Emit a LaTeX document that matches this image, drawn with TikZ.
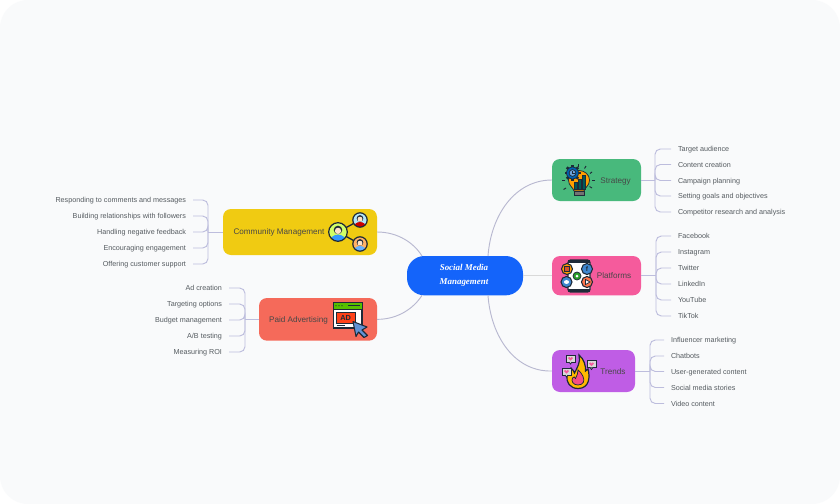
\documentclass[tikz,border=0pt]{standalone}
\usepackage{fontspec}
\setmainfont{Liberation Sans}
\newfontfamily\titlefont{Liberation Serif}
\usetikzlibrary{calc,shapes.geometric}
\definecolor{pagebg}{HTML}{F9FAFB}
\definecolor{linkc}{HTML}{BDBDDD}
\definecolor{curvec}{HTML}{B8B8D0}
\definecolor{leaftext}{HTML}{555B60}
\definecolor{ink}{HTML}{1E2A38}
\definecolor{cblue}{HTML}{1464FA}
\definecolor{cgreen}{HTML}{48B97C}
\definecolor{cpink}{HTML}{F55B9C}
\definecolor{cpurple}{HTML}{BF5DE5}
\definecolor{cyellow}{HTML}{F0CB12}
\definecolor{cred}{HTML}{F56A5A}
\tikzset{
 px/.style={x=0.75pt,y=-0.75pt},
 box/.style={rectangle,rounded corners=6pt,inner sep=0pt,outer sep=0pt,anchor=north west},
 nodetext/.style={font=\fontsize{6.1}{8}\selectfont,text=black!72,inner sep=0pt,text height=4.4pt,text depth=0pt},
 leafr/.style={font=\fontsize{5.4}{7}\selectfont,text=leaftext,anchor=west,inner ysep=0pt,inner xsep=5.25pt,outer sep=0pt,text height=4pt,text depth=0pt},
 leafl/.style={font=\fontsize{5.4}{7}\selectfont,text=leaftext,anchor=east,inner ysep=0pt,inner xsep=5.25pt,outer sep=0pt,text height=4pt,text depth=0pt},
 branch/.style={draw=linkc,line width=0.7pt,rounded corners=4pt},
 stem/.style={draw=linkc,line width=0.7pt},
 curve/.style={draw=curvec,line width=0.7pt},
 ic/.style={draw=ink,line width=0.55pt},
}
\newcommand{\bubble}[2]{%
 \fill[ic,fill=black!15] (#1-4.5,#2-3.5) rectangle (#1+4.5,#2+3.5);
 \fill[ic,fill=black!15] (#1-1.5,#2+3.5) -- (#1,#2+5.5) -- (#1+1.5,#2+3.5);
 \fill[cpink] (#1,#2+2) -- (#1-2.5,#2-.5) arc[start angle=180,end angle=360,radius=1.25] arc[start angle=180,end angle=360,radius=1.25] -- cycle;
}
\newcommand{\person}[6]{% x y r bg shirt hair
 \begin{scope}
 \clip (#1,#2) circle (#3);
 \fill[#4] (#1,#2) circle (#3);
 \fill[#5] (#1,#2+#3) ellipse ({#3*0.85} and {#3*0.72});
 \fill[#6] (#1,#2-#3*0.22) circle ({#3*0.46});
 \fill[orange!22] (#1,#2-#3*0.12) circle ({#3*0.34});
 \end{scope}
 \draw[ink,line width=0.9pt] (#1,#2) circle (#3);
}
\begin{document}
\begin{tikzpicture}[px]
\useasboundingbox (0,0) rectangle (840,504);
\fill[white] (0,0) rectangle (840,504);
\fill[pagebg,rounded corners=21pt] (0,0) rectangle (840,504);

% main nodes
\node[box,fill=cblue,rounded corners=13pt,minimum width=87pt,minimum height=29.5pt] (central) at (407,256) {};
\node[box,fill=cgreen,minimum width=66.75pt,minimum height=31.5pt] (strat) at (552,159) {};
\node[box,fill=cpink,minimum width=66.75pt,minimum height=29.5pt] (plat) at (552,256) {};
\node[box,fill=cpurple,minimum width=62.25pt,minimum height=31.5pt] (trend) at (552,350) {};
\node[box,fill=cyellow,minimum width=115.5pt,minimum height=34.5pt] (comm) at (223,209) {};
\node[box,fill=cred,minimum width=88.5pt,minimum height=32pt] (paid) at (259,298) {};

\node[font=\titlefont\itshape\bfseries\fontsize{6.7}{11}\selectfont,text=white,align=center,inner sep=0pt] (centralt) at (464,275.5) {Social Media\\Management};
\node[nodetext] (stratt) at (615.5,181) {Strategy};
\node[nodetext] (platt) at (614,276) {Platforms};
\node[nodetext] (trendt) at (613,372) {Trends};
\node[nodetext] (commt) at (279,232) {Community Management};
\node[nodetext] (paidt) at (298.5,320) {Paid Advertising};

% curved connectors
\draw[curve] ($(central.north)+(23,0)$) .. controls (491,215) and (515,180) .. (strat.west);
\draw[curve] ($(central.south)+(23,0)$) .. controls (491,337) and (515,372) .. (trend.west);
\draw[draw=black!15,line width=1pt] (central.east) -- (plat.west);
\draw[curve] (comm.east) .. controls (398,232) and (414,243) .. ($(central.north)+(-43,0)$);
\draw[curve] (paid.east) .. controls (398,319.5) and (414,308) .. ($(central.south)+(-43,0)$);

% leaves
\draw[stem] (strat.east) -- ++(14,0) coordinate (js);
\foreach \n/\y/\t in {s1/149/Target audience,s2/164.5/Content creation,s3/180.5/Campaign planning,s4/196/Setting goals and objectives,s5/212/Competitor research and analysis}{
 \node[leafr] (\n) at (671,\y) {\t};
 \draw[branch] (js) |- (\n.west);
}
\draw[stem] (plat.east) -- ++(15,0) coordinate (jp);
\foreach \n/\y/\t in {p1/236/Facebook,p2/252/Instagram,p3/268/Twitter,p4/284/LinkedIn,p5/300/YouTube,p6/316/TikTok}{
 \node[leafr] (\n) at (671,\y) {\t};
 \draw[branch] (jp) |- (\n.west);
}
\draw[stem] (trend.east) -- ++(15,0) coordinate (jt);
\foreach \n/\y/\t in {t1/340/Influencer marketing,t2/356/Chatbots,t3/371.5/User-generated content,t4/387.5/Social media stories,t5/403.5/Video content}{
 \node[leafr] (\n) at (664,\y) {\t};
 \draw[branch] (jt) |- (\n.west);
}
\draw[stem] (comm.west) -- ++(-15,0) coordinate (jc);
\foreach \n/\y/\t in {c1/200/Responding to comments and messages,c2/216/Building relationships with followers,c3/232/Handling negative feedback,c4/248/Encouraging engagement,c5/264/Offering customer support}{
 \node[leafl] (\n) at (193,\y) {\t};
 \draw[branch] (jc) |- (\n.east);
}
\draw[stem] (paid.west) -- ++(-14,0) coordinate (ja);
\foreach \n/\y/\t in {a1/288/Ad creation,a2/304/Targeting options,a3/320/Budget management,a4/336/{A/B testing},a5/352/Measuring ROI}{
 \node[leafl] (\n) at (229,\y) {\t};
 \draw[branch] (ja) |- (\n.east);
}

% --- Strategy icon: bulb
\foreach \a/\b/\c/\d in {578/164/578/167,586/166/584.5/168.5,592/172/590/173.5,592/180/595/180,592/188/589.5/186.5,565/180/562/180,566/188/563.5/189.5}{
 \draw[ink,line width=0.7pt] (\a,\b) -- (\c,\d);}
\fill[ic,fill=orange!75!yellow] (574,191) .. controls (573,187) and (568.5,186) .. (568.5,180) arc[start angle=180,end angle=360,x radius=10.5,y radius=9.5] .. controls (589.5,186) and (585,187) .. (584,191) -- cycle;
\fill[ic,fill=black!55] (574,191) rectangle (584,195.5);
\fill[ic,fill=teal!70!black] (574,182) rectangle (577,189);
\fill[ic,fill=teal!70!black] (578,179) rectangle (581,189);
\fill[ic,fill=teal!70!black] (582,175.5) rectangle (585,189);
\foreach \a in {0,45,...,315}{\fill[ink] (572.5,173) ++(\a:6) ++(\a+90:1.4) -- ++(\a:2) -- ++(\a-90:2.8) -- ++(\a+180:2) -- cycle;}
\fill[ic,fill=blue!45!cyan!70!black] (572.5,173) circle (6);
\fill[ic,fill=cyan!60!blue!60] (572.5,173) circle (3.4);
\draw[ink,line width=0.5pt] (572.5,171) -- (572.5,173) -- (574.5,173);

% --- Platforms icon
\fill[ic,line width=1pt,fill=white,rounded corners=2pt] (568,260) rectangle (590,292);
\fill[ink] (568,260) rectangle (590,263);
\fill[ink] (568,289) rectangle (590,292);
\fill[ic,line width=0.8pt,fill=orange!80!yellow] (567,269) circle (5.5);
\fill[ic,fill=red!35!brown] (564.5,266.5) rectangle (569.5,271.5);
\fill[ic,line width=0.8pt,fill=cyan!55!blue!80] (587,269) circle (5.5);
\node[font=\bfseries\fontsize{5}{5}\selectfont,text=ink,inner sep=0pt] (fbglyph) at (587,269) {f};
\fill[ic,line width=0.8pt,fill=cyan!55!blue!80] (566.5,282) circle (5.5);
\fill[white] (566.5,282) ellipse (2.6 and 1.9);
\fill[ic,line width=0.8pt,fill=red!55!orange!70] (587,282) circle (5.5);
\fill[ic,fill=white] (585.5,279.5) -- (590,282) -- (585.5,284.5) -- cycle;
\fill[ic,fill=green!55!black!85] (577,276) circle (4);
\fill[white] (577,276) circle (1.5);

% --- Trends icon
\fill[ic,line width=0.9pt,fill=orange!55!yellow] (578,388.5) .. controls (570,388.5) and (566,382) .. (567,376) .. controls (567.5,372.5) and (570,371) .. (571,368) .. controls (573,370) and (574,371.5) .. (574.5,373) .. controls (577,368) and (581,362) .. (579,355) .. controls (584,359) and (586,366) .. (585.5,371) .. controls (586.5,370.5) and (587.5,370) .. (588,369) .. controls (590,376) and (590,388.5) .. (578,388.5) -- cycle;
\fill[ic,fill=cpink!85!red] (578,385) .. controls (573,385) and (571,381) .. (572.5,378) .. controls (573.5,376) and (575,377) .. (575.5,378.5) .. controls (577,376) and (578,373) .. (578,370) .. controls (582,373) and (585,379) .. (583.5,382) .. controls (582.5,384) and (580.5,385) .. (578,385) -- cycle;
\bubble{570.5}{358.5}
\bubble{566.5}{371.5}
\bubble{591.5}{364}

% --- Community icon
\draw[ink,line width=1pt] (338,232) -- (360,220);
\draw[ink,line width=1pt] (338,232) -- (360,244);
\person{338}{232}{9.3}{green!30!yellow!60}{blue!50!cyan!80}{ink}
\person{360}{220}{7.2}{cyan!30}{red!80!black}{ink}
\person{360}{244}{7.2}{orange!60}{blue!50!cyan!60}{ink}

% --- Ad icon
\fill[ic,line width=0.9pt,fill=white] (333.5,302.5) rectangle (362,328);
\fill[ic,line width=0.7pt,fill=green!55!yellow!75!black] (333.5,302.5) rectangle (362,309);
\draw[ink,line width=0.8pt] (348,305.7) -- (360,305.7);
\fill[ink] (336,305.7) circle (0.7) (339,305.7) circle (0.7) (342,305.7) circle (0.7);
\fill[ic,fill=red!65!orange!90] (336.5,312) rectangle (355,323);
\node[font=\bfseries\fontsize{5.5}{6}\selectfont,text=ink,inner sep=0pt] (adglyph) at (345.7,317.7) {AD};
\draw[ink,line width=0.7pt] (336.5,325.5) -- (345,325.5);
\fill[ic,line width=0.8pt,fill=cyan!50!blue!65,line join=round] (353,321.5) -- (367,327) -- (362,330) -- (367.5,335.5) -- (364,337.5) -- (358.5,332) -- (356,336.5) -- cycle;
\end{tikzpicture}
\end{document}
